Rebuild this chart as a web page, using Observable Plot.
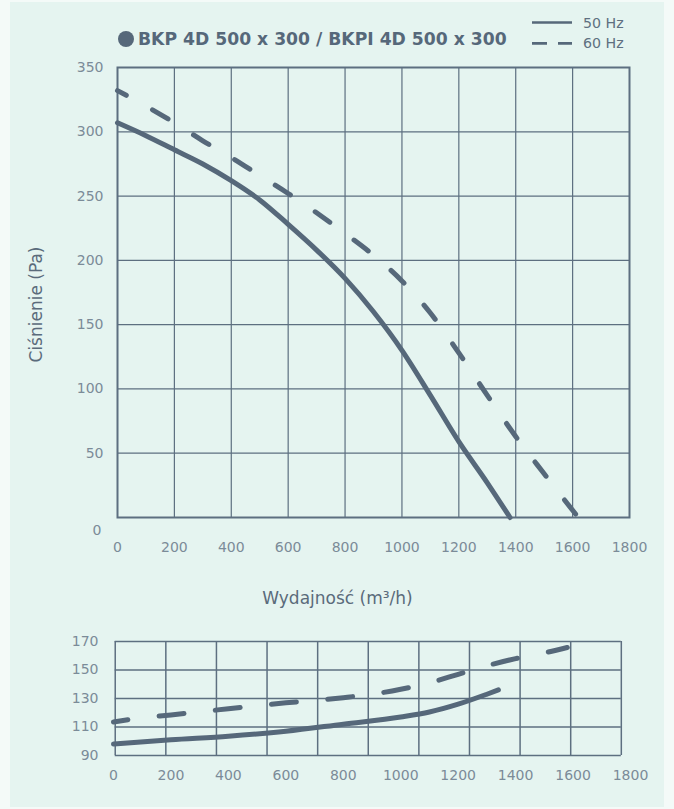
<!DOCTYPE html>
<html>
<head>
<meta charset="utf-8">
<script src="https://cdn.jsdelivr.net/npm/d3@7"></script>
<script src="https://cdn.jsdelivr.net/npm/@observablehq/plot@0.6"></script>
<style>
  html, body { margin: 0; padding: 0; background: #f4faf8; }
  #wrap { position: relative; width: 674px; height: 809px; overflow: hidden; font-family: "DejaVu Sans", sans-serif; }
  #bg { position: absolute; left: 10px; top: 2px; width: 654px; height: 805px; background: #e5f4f0; }
  #header { position: absolute; left: 0; top: 0; }
  #main { position: absolute; left: 0; top: 0; }
  #lower { position: absolute; left: 0; top: 625px; }
</style>
</head>
<body>
<div id="wrap">
  <div id="bg"></div>
  <svg id="header" width="674" height="60" font-family="DejaVu Sans, sans-serif">
    <circle cx="126" cy="39" r="8" fill="#56687a"></circle>
    <text x="138" y="39" dy="0.36em" font-size="17.2" font-weight="bold" fill="#56687a">BKP 4D 500 x 300 / BKPI 4D 500 x 300</text>
    <line x1="532" x2="572" y1="22.5" y2="22.5" stroke="#56687a" stroke-width="2.7"></line>
    <text x="583" y="22.5" dy="0.36em" font-size="14.2" fill="#5f7080">50 Hz</text>
    <line x1="532" x2="572" y1="43.3" y2="43.3" stroke="#56687a" stroke-width="2.7" stroke-dasharray="15,11"></line>
    <text x="583" y="43.3" dy="0.36em" font-size="14.2" fill="#5f7080">60 Hz</text>
  </svg>
  <div id="main"></div>
  <div id="lower"></div>
</div>
<script>
// ---- data ----
const xTicks = [0, 200, 400, 600, 800, 1000, 1200, 1400, 1600, 1800];
const mainYTicks = [0, 50, 100, 150, 200, 250, 300, 350];
const lowerYTicks = [90, 110, 130, 150, 170];

// 50 Hz pressure curve
const flow50 = [0, 100, 200, 300, 400, 500, 600, 700, 800, 900, 1000, 1100, 1200, 1300, 1380];
const pressure50 = [307, 297, 286, 275, 262, 247, 228, 208, 186, 160, 130, 95, 59, 27, 0];
// 60 Hz pressure curve
const flow60 = [0, 100, 200, 300, 400, 500, 600, 700, 800, 900, 1000, 1100, 1200, 1300, 1400, 1500, 1620];
const pressure60 = [332, 320, 307, 293, 280, 266, 252, 237, 221, 204, 184, 159, 128, 95, 63, 34, 0];

// lower chart curves
const lowerFlow50 = [0, 200, 400, 600, 800, 1000, 1100, 1200, 1300, 1340];
const lowerValue50 = [98, 101, 103.5, 107, 112, 117, 120.5, 126, 133, 136];
const lowerFlow60 = [0, 100, 200, 300, 400, 500, 600, 700, 800, 900, 1000, 1100, 1200, 1300, 1400, 1500, 1580];
const lowerValue60 = [113.5, 116.5, 118.5, 120.7, 122.8, 125, 127, 128.6, 130.6, 133, 136.5, 141, 147, 153, 158, 162, 165.8];

// ---- build tables ----
const main50 = flow50.map((x, i) => ({x, y: pressure50[i]}));
const main60 = flow60.map((x, i) => ({x, y: pressure60[i]}));
const low50 = lowerFlow50.map((x, i) => ({x, y: lowerValue50[i]}));
const low60 = lowerFlow60.map((x, i) => ({x, y: lowerValue60[i]}));

const ink = "#56687a";
const gridColor = "#5d6f80";
const tickColor = "#7b8b98";
const font = "DejaVu Sans, sans-serif";
const fmt = d => String(d);

const mainPlot = Plot.plot({
  width: 674,
  height: 617,
  marginTop: 67,
  marginLeft: 117,
  marginRight: 45,
  marginBottom: 100,
  x: {domain: [0, 1800]},
  y: {domain: [0, 350]},
  style: {background: "transparent", fontFamily: font, fontSize: "14px", color: tickColor, overflow: "visible"},
  marks: [
    Plot.ruleX(xTicks.slice(1, -1), {stroke: gridColor, strokeWidth: 1.2}),
    Plot.ruleY(mainYTicks.slice(1, -1), {stroke: gridColor, strokeWidth: 1.2}),
    Plot.frame({stroke: gridColor, strokeWidth: 2}),
    Plot.line(main50, {x: "x", y: "y", stroke: ink, strokeWidth: 5, curve: "monotone-x", strokeLinecap: "round"}),
    Plot.line(main60, {x: "x", y: "y", stroke: ink, strokeWidth: 5, curve: "monotone-x", strokeLinecap: "round", strokeDasharray: "18,30", strokeDashoffset: 8}),
    Plot.axisX({ticks: xTicks, tickFormat: fmt, tickSize: 0, tickPadding: 25, label: null, fill: tickColor}),
    Plot.axisY({ticks: mainYTicks.filter(d => d > 0), tickFormat: fmt, tickSize: 0, tickPadding: 14, label: null, fill: tickColor}),
    Plot.axisY({ticks: [0], tickFormat: fmt, tickSize: 0, tickPadding: 16, dy: 13, label: null, fill: tickColor}),
    Plot.text(["Wydajność (m³/h)"], {frameAnchor: "bottom", textAnchor: "middle", lineAnchor: "middle", dx: -36, dy: 81, fontSize: 17, fill: "#5a6b7b"}),
    Plot.text(["Ciśnienie (Pa)"], {frameAnchor: "left", textAnchor: "middle", lineAnchor: "middle", dx: -81, dy: 12, rotate: -90, fontSize: 17, fill: "#5a6b7b"})
  ]
});
document.getElementById("main").appendChild(mainPlot);

const lowerGridX = d3.range(11).map(i => 6 + i * 176.2);

const lowerPlot = Plot.plot({
  width: 674,
  height: 165,
  marginTop: 16,
  marginBottom: 35,
  marginLeft: 113,
  marginRight: 44,
  x: {domain: [0, 1800]},
  y: {domain: [90, 170]},
  style: {background: "transparent", fontFamily: font, fontSize: "14px", color: tickColor, overflow: "visible"},
  marks: [
    Plot.ruleX(lowerGridX, {y1: 90, y2: 170, stroke: gridColor, strokeWidth: 1.5}),
    Plot.ruleY(lowerYTicks, {x1: lowerGridX[0], x2: lowerGridX[10], stroke: gridColor, strokeWidth: 1.5}),
    Plot.line(low50, {x: "x", y: "y", stroke: ink, strokeWidth: 5, curve: "monotone-x", strokeLinecap: "round"}),
    Plot.line(low60, {x: "x", y: "y", stroke: ink, strokeWidth: 5, curve: "monotone-x", strokeLinecap: "round", strokeDasharray: "25,31.5", strokeDashoffset: 10.5}),
    Plot.axisX({ticks: xTicks, tickFormat: fmt, tickSize: 0, tickPadding: 15, label: null, fill: tickColor}),
    Plot.axisY({ticks: lowerYTicks, tickFormat: fmt, tickSize: 0, tickPadding: 15, label: null, fill: tickColor})
  ]
});
document.getElementById("lower").appendChild(lowerPlot);
</script>
</body>
</html>
